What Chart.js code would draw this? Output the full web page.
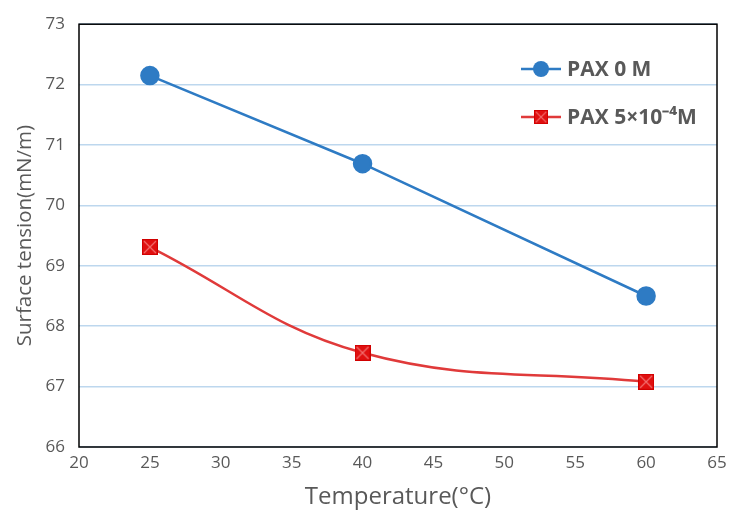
<!DOCTYPE html>
<html>
<head>
<meta charset="utf-8">
<script src="https://cdn.jsdelivr.net/npm/chart.js@4"></script>
<style>
  body { margin: 0; background: #fff; }
  #wrap { width: 729px; height: 516px; }
</style>
</head>
<body>
<div id="wrap"><canvas id="chart" width="729" height="516"></canvas></div>
<script>
const temps = [25, 40, 60];
const pax0 = [72.15, 70.69, 68.5];
const pax5 = [69.31, 67.56, 67.08];
const seriesLabels = ["PAX 0 M", "PAX 5×10⁻⁴M"];

const blue = "#2E7BC4";
const red = "#E03A3A";
const font = "'Open Sans', sans-serif";

// red square with an X, like the Excel marker
function squareMarker(size) {
  const c = document.createElement("canvas");
  c.width = size; c.height = size;
  const g = c.getContext("2d");
  g.fillStyle = "#E01010";
  g.fillRect(0, 0, size, size);
  g.strokeStyle = "#F27070";
  g.lineWidth = 1.2;
  g.beginPath();
  g.moveTo(2, 2); g.lineTo(size - 2, size - 2);
  g.moveTo(size - 2, 2); g.lineTo(2, size - 2);
  g.stroke();
  g.strokeStyle = "#D00000";
  g.lineWidth = 1;
  g.strokeRect(0.5, 0.5, size - 1, size - 1);
  return c;
}
const redMarker = squareMarker(16);

const frame = {
  id: "frame",
  beforeDatasetsDraw(chart) {
    const a = chart.chartArea, ctx = chart.ctx;
    ctx.save();
    ctx.strokeStyle = "#000";
    ctx.lineWidth = 1.5;
    ctx.strokeRect(a.left, a.top, a.right - a.left, a.bottom - a.top);
    ctx.restore();
  }
};

const legendBox = {
  id: "legendBox",
  afterDraw(chart) {
    const ctx = chart.ctx;
    const x0 = 521, rows = [69, 117];
    ctx.save();
    chart.data.datasets.forEach((ds, i) => {
      const y = rows[i];
      ctx.strokeStyle = ds.borderColor;
      ctx.lineWidth = 2.5;
      ctx.beginPath();
      ctx.moveTo(x0, y); ctx.lineTo(x0 + 40, y);
      ctx.stroke();
      if (i === 0) {
        ctx.fillStyle = ds.pointBackgroundColor;
        ctx.beginPath();
        ctx.arc(x0 + 20, y, 8, 0, Math.PI * 2);
        ctx.fill();
      } else {
        ctx.drawImage(redMarker, x0 + 20 - 7, y - 7, 14, 14);
      }
      ctx.fillStyle = "#595959";
      ctx.font = "bold 21px " + font;
      ctx.textBaseline = "middle";
      ctx.fillText(ds.label, x0 + 46, y + 1);
    });
    ctx.restore();
  }
};

new Chart(document.getElementById("chart"), {
  type: "line",
  data: {
    datasets: [
      {
        label: seriesLabels[0],
        data: temps.map((t, i) => ({ x: t, y: pax0[i] })),
        borderColor: blue,
        borderWidth: 2.5,
        pointBackgroundColor: blue,
        pointBorderColor: blue,
        pointRadius: 8.5,
        tension: 0
      },
      {
        label: seriesLabels[1],
        data: temps.map((t, i) => ({ x: t, y: pax5[i] })),
        borderColor: red,
        borderWidth: 2.5,
        pointStyle: redMarker,
        pointRadius: 8,
        tension: 0.4
      }
    ]
  },
  options: {
    responsive: false,
    animation: false,
    layout: { padding: { top: 23, right: 12, left: 9, bottom: 0 } },
    plugins: { legend: { display: false }, tooltip: { enabled: false } },
    scales: {
      x: {
        type: "linear",
        min: 20, max: 65,
        ticks: { stepSize: 5, color: "#595959", font: { size: 17, family: font }, padding: 6 },
        grid: { display: false, drawTicks: false },
        border: { display: false },
        title: { display: true, text: "Temperature(°C)", color: "#595959", font: { size: 24, family: font }, padding: { top: 4 } },
        afterFit(s) { s.height = 69; s.paddingRight = 0; s.paddingLeft = 0; }
      },
      y: {
        min: 66, max: 73,
        ticks: { stepSize: 1, color: "#595959", font: { size: 17, family: font }, padding: 14 },
        grid: { color: "#BDD7EE", lineWidth: 1.5, drawTicks: false },
        border: { display: false },
        title: { display: true, text: "Surface tension(mN/m)", color: "#595959", font: { size: 20.5, family: font }, padding: { bottom: 2 } },
        afterFit(s) { s.width = 70; }
      }
    }
  },
  plugins: [frame, legendBox]
});
</script>
</body>
</html>
